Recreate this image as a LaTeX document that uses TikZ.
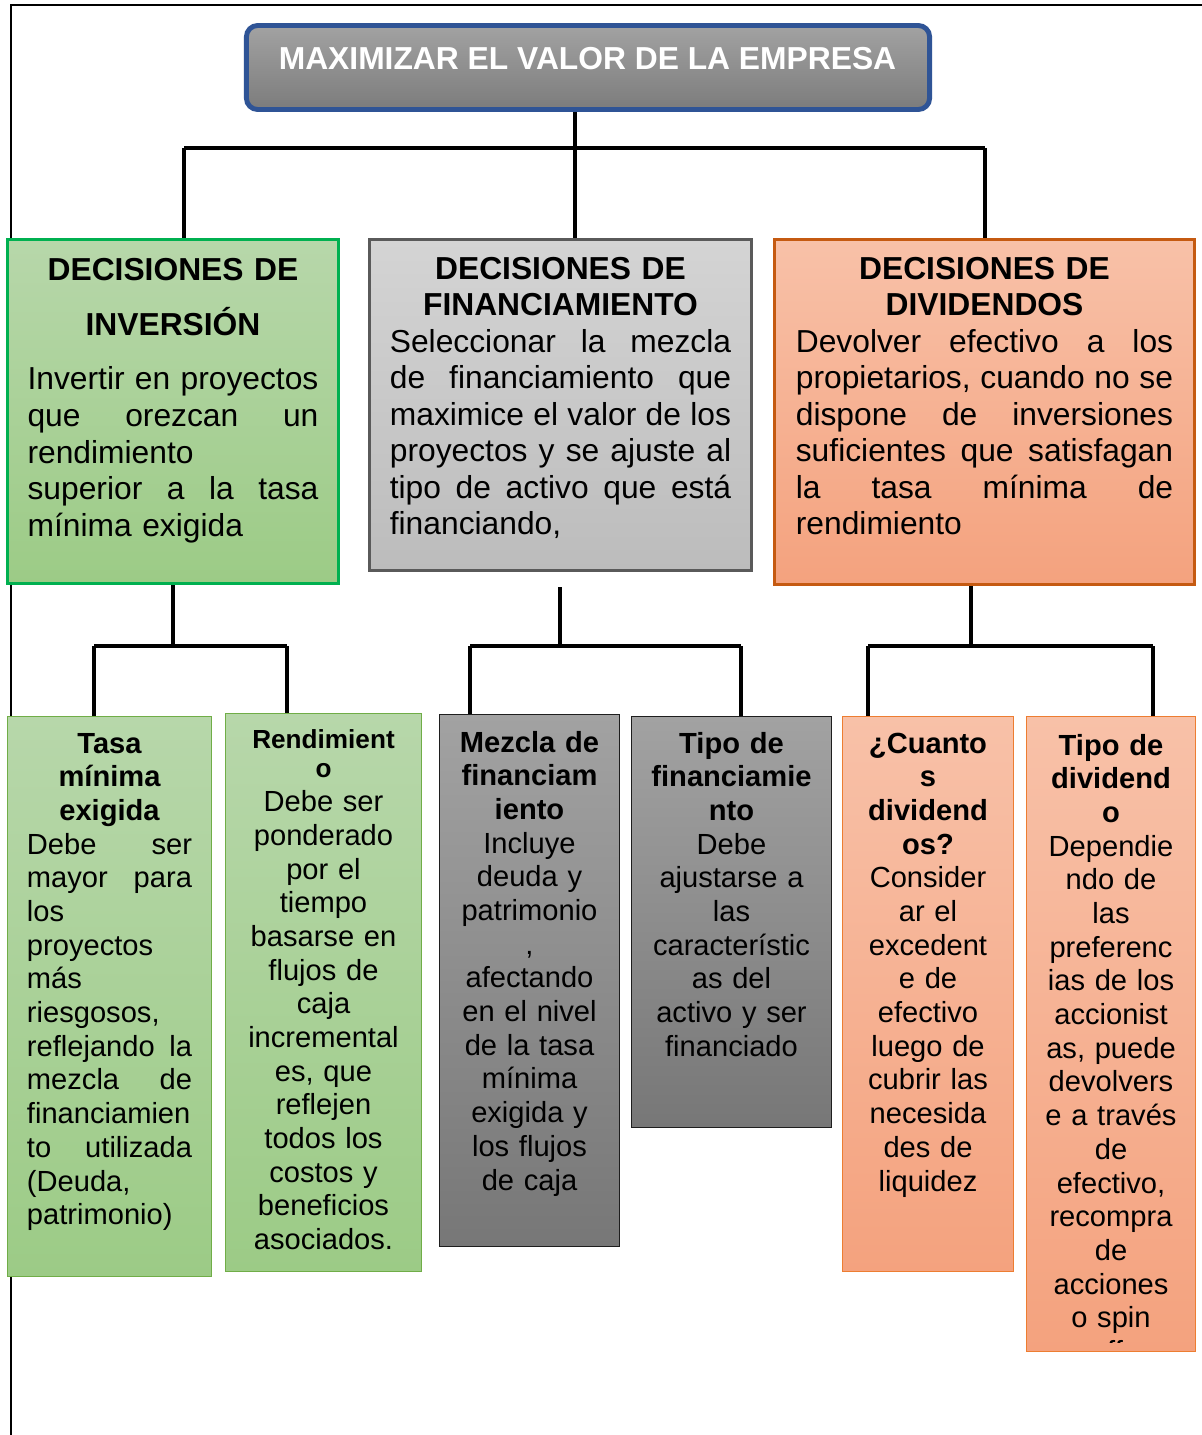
\documentclass[tikz,border=0pt]{standalone}
\usepackage{fontspec}
\setmainfont{Liberation Sans}
\usetikzlibrary{positioning,calc}
\definecolor{Blu}{HTML}{2F5496}
\definecolor{TopHi}{HTML}{A2A2A2}
\definecolor{TopLo}{HTML}{7C7C7C}
\definecolor{InvLine}{HTML}{00B050}
\definecolor{InvHi}{HTML}{B7D7AA}
\definecolor{InvLo}{HTML}{9CCB86}
\definecolor{FinLine}{HTML}{5A5A5A}
\definecolor{FinHi}{HTML}{D4D4D4}
\definecolor{FinLo}{HTML}{BCBCBC}
\definecolor{DivLine}{HTML}{C55A11}
\definecolor{DivHi}{HTML}{F8C1A8}
\definecolor{DivLo}{HTML}{F4A27E}
\definecolor{LeafG}{HTML}{70AD47}
\definecolor{LeafO}{HTML}{ED7D31}
\definecolor{LeafD}{HTML}{1E1E1E}
\definecolor{DarkHi}{HTML}{A2A2A2}
\definecolor{DarkLo}{HTML}{777777}
\tikzset{
  box/.style={rectangle,inner sep=0pt},
  topbox/.style={box,rounded corners=8pt,draw=Blu,line width=3.5pt,
                 top color=TopHi,bottom color=TopLo},
  invbox/.style={box,draw=InvLine,line width=2.1pt,top color=InvHi,bottom color=InvLo},
  finbox/.style={box,draw=FinLine,line width=2.1pt,top color=FinHi,bottom color=FinLo},
  divbox/.style={box,draw=DivLine,line width=2.1pt,top color=DivHi,bottom color=DivLo},
  gleaf/.style={box,draw=LeafG,line width=0.9pt,top color=InvHi,bottom color=InvLo},
  dleaf/.style={box,draw=LeafD,line width=1pt,top color=DarkHi,bottom color=DarkLo},
  oleaf/.style={box,draw=LeafO,line width=0.9pt,top color=DivHi,bottom color=DivLo},
  btext/.style={anchor=base,inner sep=0pt,font=\fontsize{22.6}{26}\selectfont},
  ltext/.style={anchor=base,inner sep=0pt,font=\fontsize{20.7}{23.96}\selectfont},
  conn/.style={line width=2.2pt,black},
  bar/.style={line width=3pt,black},
}
% justified line: words separated by \hfill, width \jw
\newcommand{\jw}{1cm}
\newcommand{\jl}[1]{\makebox[\jw]{#1}}

\begin{document}
\begin{tikzpicture}[x=0.025cm,y=-0.025cm]
  \fill[white] (0,0) rectangle (1202,1435);
  \useasboundingbox (0,0) rectangle (1202,1435);
  \draw[line width=1.6pt] (1202,5) -- (11,5) -- (11,1435);

  % top
  \node[topbox,minimum width=17.075cm,minimum height=2.1cm] (max) at (588,67.5) {};
  \node[btext,text=white,font=\fontsize{22.6}{26}\selectfont\bfseries] (maxt) at (587.5,69.5)
    {MAXIMIZAR EL VALOR DE LA EMPRESA};

  % decisiones
  \node[invbox,minimum width=8.275cm,minimum height=8.6cm] (inv) at (173,411.5) {};
  \node[finbox,minimum width=9.55cm,minimum height=8.275cm] (fin) at (560.5,405) {};
  \node[divbox,minimum width=10.5cm,minimum height=8.625cm] (div) at (984.5,412) {};

  \node[btext,text width=7.27cm] (invt) at (173,280) {\renewcommand{\jw}{7.27cm}%
    {\centering\bfseries DECISIONES DE\\[13.8pt]INVERSIÓN\par}\vspace{12.4pt}
    \jl{Invertir\hfill en\hfill proyectos}\\
    \jl{que\hfill orezcan\hfill un}\\
    rendimiento\\
    \jl{superior\hfill a\hfill la\hfill tasa}\\
    mínima exigida};
  \node[btext,text width=8.53cm] (fint) at (560.5,279) {\renewcommand{\jw}{8.53cm}%
    {\centering\bfseries DECISIONES DE\\FINANCIAMIENTO\par}
    \jl{Seleccionar\hfill la\hfill mezcla}\\
    \jl{de\hfill financiamiento\hfill que}\\
    \jl{maximice\hfill el\hfill valor\hfill de\hfill los}\\
    \jl{proyectos\hfill y\hfill se\hfill ajuste\hfill al}\\
    \jl{tipo\hfill de\hfill activo\hfill que\hfill está}\\
    financiando,};
  \node[btext,text width=9.43cm] (divt) at (984.5,279) {\renewcommand{\jw}{9.43cm}%
    {\centering\bfseries DECISIONES DE\\DIVIDENDOS\par}
    \jl{Devolver\hfill efectivo\hfill a\hfill los}\\
    \jl{propietarios,\hfill cuando\hfill no\hfill se}\\
    \jl{dispone\hfill de\hfill inversiones}\\
    \jl{suficientes\hfill que\hfill satisfagan}\\
    \jl{la\hfill tasa\hfill mínima\hfill de}\\
    rendimiento};

  % hojas
  \node[gleaf,minimum width=5.1cm,minimum height=14cm] (tasa) at (109.5,996.5) {};
  \node[gleaf,minimum width=4.9cm,minimum height=13.95cm] (rend) at (323.5,992.5) {};
  \node[dleaf,minimum width=4.5cm,minimum height=13.3cm] (mezc) at (529.5,980.5) {};
  \node[dleaf,minimum width=5cm,minimum height=10.275cm] (tipf) at (731.5,922) {};
  \node[oleaf,minimum width=4.275cm,minimum height=13.875cm] (cuan) at (928,994) {};
  \node[oleaf,minimum width=4.225cm,minimum height=15.875cm] (tipd) at (1111,1034) {};

  \node[ltext,text width=4.125cm] (tasat) at (109.5,753) {\renewcommand{\jw}{4.125cm}%
    {\centering\bfseries Tasa\\mínima\\exigida\par}
    \jl{Debe\hfill ser}\\
    \jl{mayor\hfill para}\\
    los\\
    proyectos\\
    más\\
    riesgosos,\\
    \jl{reflejando\hfill la}\\
    \jl{mezcla\hfill de}\\
    financiamien\\
    \jl{to\hfill utilizada}\\
    (Deuda,\\
    patrimonio)};
  \node[ltext,text width=4.7cm,align=center] (rendt) at (323.5,748) {%
    {\fontsize{18.6}{21.3}\selectfont\bfseries Rendimient\\o\par}
    Debe ser\\ponderado\\por el\\tiempo\\basarse en\\flujos de\\caja\\incremental\\es, que\\
    reflejen\\todos los\\costos y\\beneficios\\asociados.};
  \node[ltext,text width=4.4cm,align=center] (mezct) at (529.5,752) {%
    \textbf{Mezcla de}\\\textbf{financiam}\\\textbf{iento}\\
    Incluye\\deuda y\\patrimonio\\,\\afectando\\en el nivel\\de la tasa\\mínima\\exigida y\\
    los flujos\\de caja};
  \node[ltext,text width=4.9cm,align=center] (tipft) at (731.5,753) {%
    \textbf{Tipo de}\\\textbf{financiamie}\\\textbf{nto}\\
    Debe\\ajustarse a\\las\\característic\\as del\\activo y ser\\financiado};
  \node[ltext,text width=4.2cm,align=center] (cuant) at (928,753) {%
    \textbf{¿Cuanto}\\\textbf{s}\\\textbf{dividend}\\\textbf{os?}\\
    Consider\\ar el\\excedent\\e de\\efectivo\\luego de\\cubrir las\\necesida\\des de\\liquidez};
  \begin{scope}
    \clip (tipd.north west) rectangle ([yshift=7pt]tipd.south east);
    \node[ltext,text width=4.15cm,align=center] (tipdt) at (1111,755) {%
      \textbf{Tipo de}\\\textbf{dividend}\\\textbf{o}\\
      Dependie\\ndo de\\las\\preferenc\\ias de los\\accionist\\as, puede\\devolvers\\
      e a través\\de\\efectivo,\\recompra\\de\\acciones\\o spin\\off.};
  \end{scope}

  % conectores nivel 1
  \coordinate (j0) at (575,148);
  \coordinate (k0l) at (184,148);
  \coordinate (k0r) at (985,148);
  \draw[bar] (k0l) -- (k0r);
  \draw[conn] (j0 |- max.south) -- (j0 |- fin.north);
  \draw[conn] (k0l) -- (k0l |- inv.north);
  \draw[conn] (k0r) -- (k0r |- div.north);

  % conectores nivel 2
  \coordinate (j1) at (173,646);
  \coordinate (k1l) at (94,646);
  \coordinate (k1r) at (287,646);
  \draw[conn] (inv.south) -- (j1);
  \draw[bar] (k1l) -- (k1r);
  \draw[conn] (k1l) -- (k1l |- tasa.north);
  \draw[conn] (k1r) -- (k1r |- rend.north);

  \coordinate (j2t) at (560,587);
  \coordinate (j2) at (560,646);
  \coordinate (k2l) at (470,646);
  \coordinate (k2r) at (741,646);
  \draw[conn] (j2t) -- (j2);
  \draw[bar] (k2l) -- (k2r);
  \draw[conn] (k2l) -- (k2l |- mezc.north);
  \draw[conn] (k2r) -- (k2r |- tipf.north);

  \coordinate (j3) at (971,646);
  \coordinate (k3l) at (868,646);
  \coordinate (k3r) at (1153,646);
  \draw[conn] (j3 |- div.south) -- (j3);
  \draw[bar] (k3l) -- (k3r);
  \draw[conn] (k3l) -- (k3l |- cuan.north);
  \draw[conn] (k3r) -- (k3r |- tipd.north);
\end{tikzpicture}
\end{document}
